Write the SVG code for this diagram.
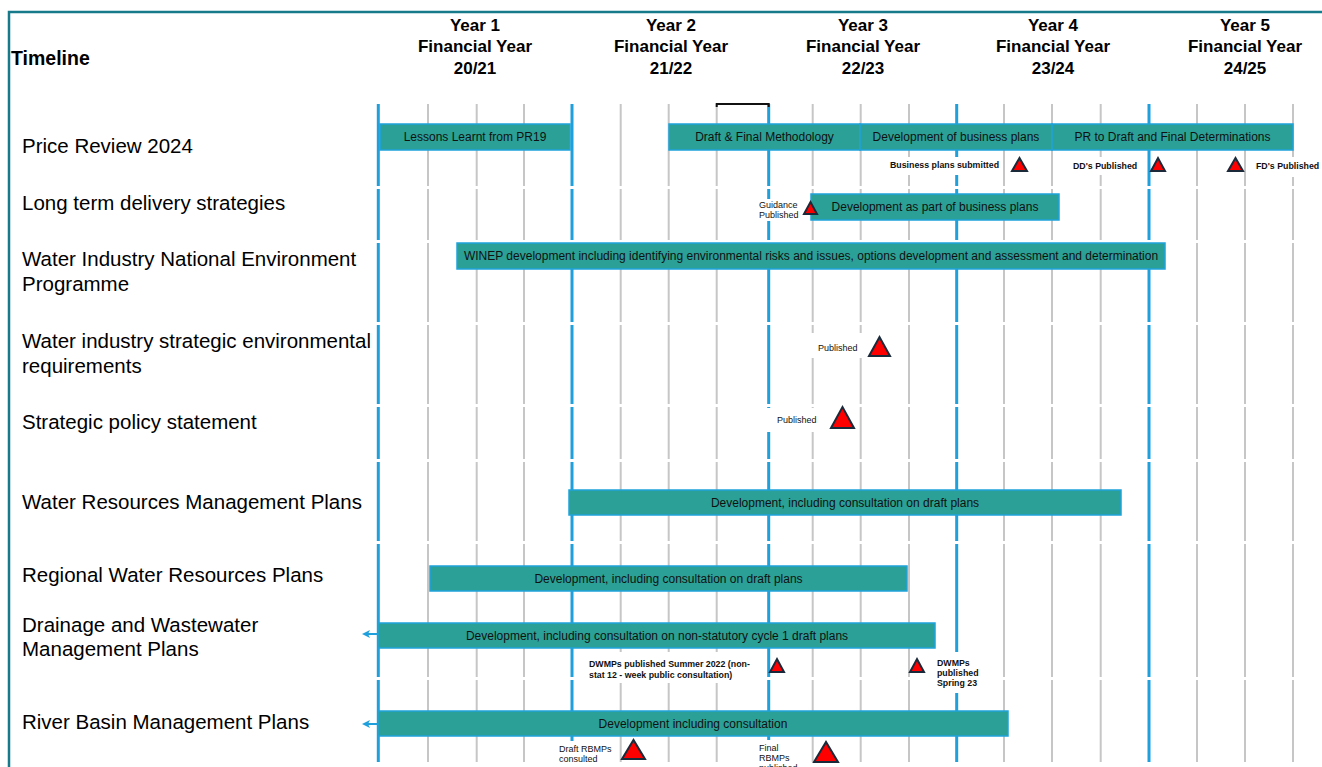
<svg xmlns="http://www.w3.org/2000/svg" width="1322" height="767" viewBox="0 0 1322 767">
<style>
.hdr{font-family:"Liberation Sans",Arial,sans-serif;font-weight:bold;font-size:17px;fill:#000;text-anchor:middle}
.row{font-family:"Liberation Sans",Arial,sans-serif;font-size:20.5px;fill:#000}
.bar{fill:#2aa096;stroke:#1ea3dc;stroke-width:1.5}
.bt{font-family:"Liberation Sans",Arial,sans-serif;font-size:12px;fill:#111;text-anchor:middle}
.sm{font-family:"Liberation Sans",Arial,sans-serif;font-size:9px;fill:#111}
.smb{font-family:"Liberation Sans",Arial,sans-serif;font-size:8.8px;font-weight:bold;fill:#111}
.tri{fill:#ff0000;stroke:#1b2a3a;stroke-width:2;stroke-linejoin:miter}
.blue{stroke:#1fa0dc;stroke-width:3}
.gray{stroke:#c6c6c6;stroke-width:2}
.wb{fill:#fff}
.arrh{fill:#1fa0dc}
</style>
<rect width="1322" height="767" fill="#fff"/>
<!-- frame -->
<path d="M9,767 V12 H1322" fill="none" stroke="#167a8b" stroke-width="2.5"/>
<!-- header -->
<g id="header">
<text x="11" y="65" font-family="Liberation Sans, Arial, sans-serif" font-weight="bold" font-size="19.5">Timeline</text>
<text class="hdr" x="475" y="31">Year 1</text><text class="hdr" x="475" y="52">Financial Year</text><text class="hdr" x="475" y="74">20/21</text>
<text class="hdr" x="671" y="31">Year 2</text><text class="hdr" x="671" y="52">Financial Year</text><text class="hdr" x="671" y="74">21/22</text>
<text class="hdr" x="863" y="31">Year 3</text><text class="hdr" x="863" y="52">Financial Year</text><text class="hdr" x="863" y="74">22/23</text>
<text class="hdr" x="1053" y="31">Year 4</text><text class="hdr" x="1053" y="52">Financial Year</text><text class="hdr" x="1053" y="74">23/24</text>
<text class="hdr" x="1245" y="31">Year 5</text><text class="hdr" x="1245" y="52">Financial Year</text><text class="hdr" x="1245" y="74">24/25</text>
</g>
<!-- grid -->
<g id="grid" stroke-dasharray="82 3 51 3 79 3 79 3 52 3 79 3 133 3 83 10">
<g class="gray">
<line x1="428" y1="104" x2="428" y2="762"/><line x1="476.7" y1="104" x2="476.7" y2="762"/><line x1="524" y1="104" x2="524" y2="762"/>
<line x1="620.7" y1="104" x2="620.7" y2="762"/><line x1="668.7" y1="104" x2="668.7" y2="762"/><line x1="716.7" y1="104" x2="716.7" y2="762"/>
<line x1="812.7" y1="104" x2="812.7" y2="762"/><line x1="860.7" y1="104" x2="860.7" y2="762"/><line x1="909" y1="104" x2="909" y2="762"/>
<line x1="1004" y1="104" x2="1004" y2="762"/><line x1="1052" y1="104" x2="1052" y2="762"/><line x1="1100.7" y1="104" x2="1100.7" y2="762"/>
<line x1="1197" y1="104" x2="1197" y2="762"/><line x1="1245" y1="104" x2="1245" y2="762"/><line x1="1293" y1="104" x2="1293" y2="762"/>
</g>
<g class="blue">
<line x1="378.3" y1="104" x2="378.3" y2="762"/><line x1="572" y1="104" x2="572" y2="762"/><line x1="768.7" y1="104" x2="768.7" y2="762"/>
<line x1="956.7" y1="104" x2="956.7" y2="762"/><line x1="1149" y1="104" x2="1149" y2="762"/>
</g>
</g>
<path d="M716.7,107 V104 H768.7 V107" fill="none" stroke="#111" stroke-width="2"/>
<!-- label backgrounds -->
<g id="label-bg">
<rect class="wb" x="886" y="157" width="116" height="18"/>
<rect class="wb" x="1068" y="157" width="73" height="18"/>
<rect class="wb" x="1251" y="157" width="71" height="20"/>
<rect class="wb" x="756" y="199" width="46" height="22"/>
<rect class="wb" x="808" y="333" width="56" height="25"/>
<rect class="wb" x="766" y="408" width="60" height="24"/>
<rect class="wb" x="582" y="652" width="178" height="31"/>
<rect class="wb" x="932" y="652" width="52" height="41"/>
<rect class="wb" x="555" y="741" width="60" height="26"/>
<rect class="wb" x="754" y="740" width="48" height="27"/>
</g>
<!-- row labels -->
<g id="rows">
<text class="row" x="22" y="153">Price Review 2024</text>
<text class="row" x="22" y="210">Long term delivery strategies</text>
<text class="row" x="22" y="266">Water Industry National Environment</text>
<text class="row" x="22" y="291">Programme</text>
<text class="row" x="22" y="348">Water industry strategic environmental</text>
<text class="row" x="22" y="373">requirements</text>
<text class="row" x="22" y="429">Strategic policy statement</text>
<text class="row" x="22" y="509">Water Resources Management Plans</text>
<text class="row" x="22" y="582">Regional Water Resources Plans</text>
<text class="row" x="22" y="632">Drainage and Wastewater</text>
<text class="row" x="22" y="656">Management Plans</text>
<text class="row" x="22" y="729">River Basin Management Plans</text>
</g>
<!-- connectors (left arrows) -->
<g id="connectors">
<line x1="378" y1="634" x2="368" y2="634" stroke="#1fa0dc" stroke-width="2"/>
<polygon class="arrh" points="362,634 370,630 368,634 370,638"/>
<line x1="378" y1="724" x2="368" y2="724" stroke="#1fa0dc" stroke-width="2"/>
<polygon class="arrh" points="362,724 370,720 368,724 370,728"/>
</g>
<!-- bars -->
<g id="bar-lessons"><rect class="bar" x="380" y="124" width="190" height="26"/><text class="bt" x="475" y="141">Lessons Learnt from PR19</text></g>
<g id="bar-methodology"><rect class="bar" x="669" y="124" width="191" height="26"/><text class="bt" x="764.5" y="141">Draft &amp; Final Methodology</text></g>
<g id="bar-bizplans"><rect class="bar" x="860" y="124" width="192" height="26"/><text class="bt" x="956" y="141">Development of business plans</text></g>
<g id="bar-determinations"><rect class="bar" x="1052" y="124" width="241" height="26"/><text class="bt" x="1172.5" y="141">PR to Draft and Final Determinations</text></g>
<g id="bar-ltds"><rect class="bar" x="811" y="194" width="248" height="26"/><text class="bt" x="935" y="211">Development as part of business plans</text></g>
<g id="bar-winep"><rect class="bar" x="457" y="243" width="708" height="26"/><text class="bt" x="811" y="260" font-size="11px">WINEP development including identifying environmental risks and issues, options development and assessment and determination</text></g>
<g id="bar-wrmp"><rect class="bar" x="569" y="490" width="552" height="25"/><text class="bt" x="845" y="506.5">Development, including consultation on draft plans</text></g>
<g id="bar-rwrp"><rect class="bar" x="430" y="566" width="477" height="25"/><text class="bt" x="668.5" y="582.5">Development, including consultation on draft plans</text></g>
<g id="bar-dwmp"><rect class="bar" x="378" y="623" width="557" height="25"/><text class="bt" x="657" y="639.5">Development, including consultation on non-statutory cycle 1 draft plans</text></g>
<g id="bar-rbmp"><rect class="bar" x="378" y="711" width="630" height="25"/><text class="bt" x="693" y="727.5">Development including consultation</text></g>
<!-- milestones -->
<g id="ms-bizplans"><polygon class="tri" points="1012,171 1027,171 1019.5,158"/><text class="smb" x="890" y="168">Business plans submitted</text></g>
<g id="ms-dd"><polygon class="tri" points="1151,171 1165,171 1158,158"/><text class="smb" x="1073" y="169">DD's Published</text></g>
<g id="ms-fd"><polygon class="tri" points="1228,171 1243,171 1235.5,158"/><text class="smb" x="1256" y="169">FD's Published</text></g>
<g id="ms-guidance"><polygon class="tri" points="804,214 817,214 810.5,202"/><text class="sm" font-size="8.5" x="759" y="208">Guidance</text><text class="sm" font-size="8.5" x="759" y="218">Published</text></g>
<g id="ms-wiser"><polygon class="tri" points="869,356 890,356 879.5,337"/><text class="sm" x="818" y="351">Published</text></g>
<g id="ms-sps"><polygon class="tri" points="831,428 854,428 842.5,407"/><text class="sm" x="777" y="423">Published</text></g>
<g id="ms-dwmp1"><polygon class="tri" points="770,672 784,672 777,659"/><text class="smb" x="589" y="667">DWMPs published Summer 2022 (non-</text><text class="smb" x="589" y="678">stat 12 - week public consultation)</text></g>
<g id="ms-dwmp2"><polygon class="tri" points="910,672 924,672 917,659"/><text class="smb" x="937" y="666">DWMPs</text><text class="smb" x="937" y="676">published</text><text class="smb" x="937" y="686">Spring 23</text></g>
<g id="ms-rbmp-draft"><polygon class="tri" points="622,759 645,759 633.5,740"/><text class="sm" x="559" y="752">Draft RBMPs</text><text class="sm" x="559" y="762">consulted</text></g>
<g id="ms-rbmp-final"><polygon class="tri" points="814,762 838,762 826,742"/><text class="sm" x="759" y="751">Final</text><text class="sm" x="759" y="761">RBMPs</text><text class="sm" x="759" y="771">published</text></g>
</svg>
